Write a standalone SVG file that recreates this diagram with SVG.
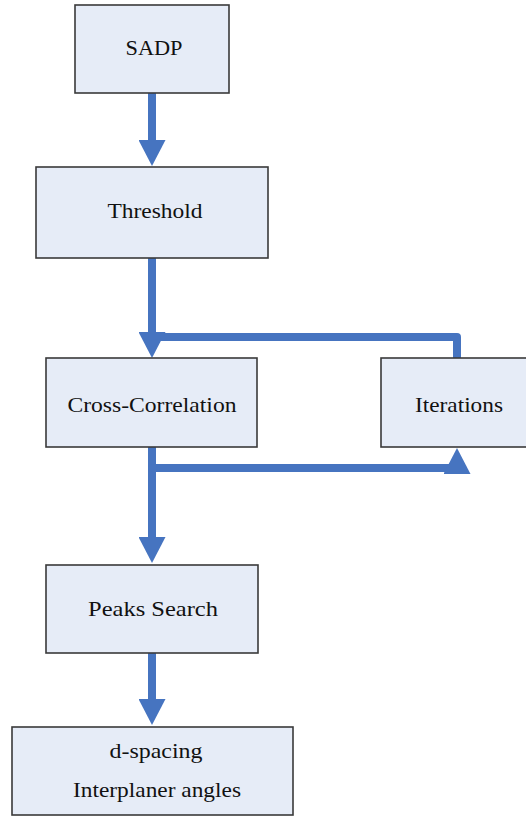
<svg xmlns="http://www.w3.org/2000/svg" width="526" height="816" viewBox="0 0 526 816">
<style>
.box{fill:#E6ECF7;stroke:#3a3a3a;stroke-width:1.6}
.lbl{font-family:"Liberation Serif","Times New Roman",serif;font-size:22px;fill:#111;text-anchor:middle}
.con{fill:none;stroke:#4674C0;stroke-width:8;stroke-linecap:round;stroke-linejoin:round}
</style>
<defs>
<marker id="ah" markerUnits="userSpaceOnUse" viewBox="0 0 26 27" refX="0" refY="13.5" markerWidth="26" markerHeight="27" orient="auto">
<path d="M0,0 L26,13.5 L0,27 z" fill="#4674C0"/>
</marker>
</defs>
<rect width="526" height="816" fill="#fff"/>
<g id="connectors">
<path class="con" d="M152,94 V140" marker-end="url(#ah)"/>
<path class="con" d="M152,259 V332" marker-end="url(#ah)"/>
<path class="con" d="M457,357 V337 H152"/>
<path class="con" d="M152,448 V537" marker-end="url(#ah)"/>
<path class="con" d="M152,468 H457"/>
<path class="con" style="stroke:none" d="M457,475 V474" marker-end="url(#ah)"/>
<path class="con" d="M152,654 V699" marker-end="url(#ah)"/>
</g>
<g id="sadp">
<rect class="box" x="75" y="5" width="154" height="88"/>
<text class="lbl" x="154" y="55" textLength="57" lengthAdjust="spacingAndGlyphs">SADP</text>
</g>
<g id="threshold">
<rect class="box" x="36" y="167" width="232" height="91"/>
<text class="lbl" x="155" y="218" textLength="95" lengthAdjust="spacingAndGlyphs">Threshold</text>
</g>
<g id="crosscorrelation">
<rect class="box" x="46" y="358" width="211" height="89"/>
<text class="lbl" x="152" y="412" textLength="169" lengthAdjust="spacingAndGlyphs">Cross-Correlation</text>
</g>
<g id="iterations">
<rect class="box" x="381" y="358" width="150" height="89"/>
<text class="lbl" x="459" y="412" textLength="88" lengthAdjust="spacingAndGlyphs">Iterations</text>
</g>
<g id="peakssearch">
<rect class="box" x="46" y="565" width="212" height="88"/>
<text class="lbl" x="153" y="616" textLength="130" lengthAdjust="spacingAndGlyphs">Peaks Search</text>
</g>
<g id="dspacing">
<rect class="box" x="12" y="727" width="281" height="88"/>
<text class="lbl" x="156" y="758" textLength="93" lengthAdjust="spacingAndGlyphs">d-spacing</text>
<text class="lbl" x="157" y="797" textLength="168" lengthAdjust="spacingAndGlyphs">Interplaner angles</text>
</g>
</svg>
